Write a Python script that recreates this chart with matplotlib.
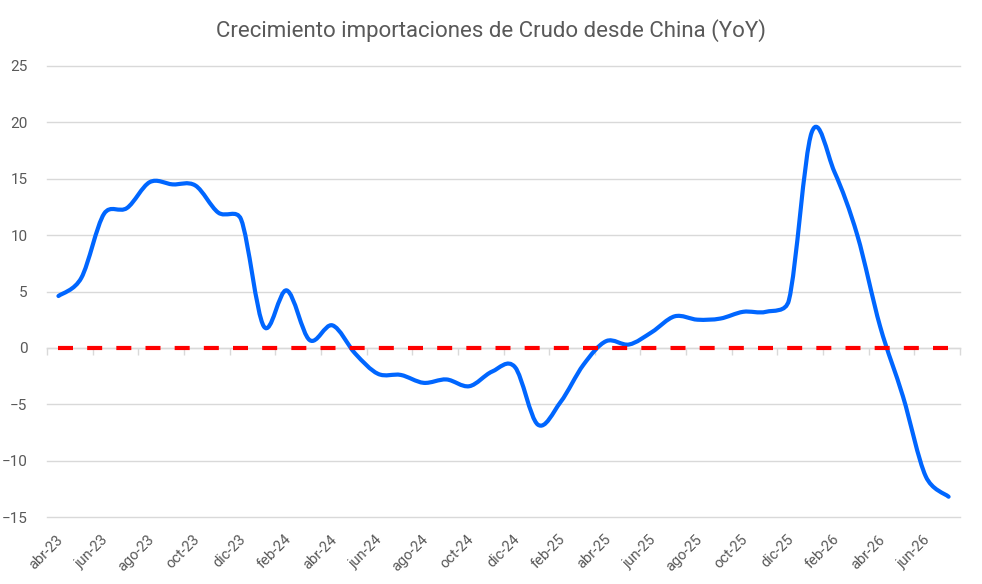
import matplotlib
matplotlib.use("Agg")
import matplotlib.pyplot as plt
from matplotlib.path import Path
from matplotlib.patches import PathPatch
import math

plt.rcParams['font.family'] = ['Roboto', 'DejaVu Sans']

meses = ["abr-23", "may-23", "jun-23", "jul-23", "ago-23", "sep-23", "oct-23", "nov-23",
         "dic-23", "ene-24", "feb-24", "mar-24", "abr-24", "may-24", "jun-24", "jul-24",
         "ago-24", "sep-24", "oct-24", "nov-24", "dic-24", "ene-25", "feb-25", "mar-25",
         "abr-25", "may-25", "jun-25", "jul-25", "ago-25", "sep-25", "oct-25", "nov-25",
         "dic-25", "ene-26", "feb-26", "mar-26", "abr-26", "may-26", "jun-26", "jul-26"]

crecimiento = [4.6, 6.2, 11.9, 12.4, 14.7, 14.5, 14.4, 12.0, 11.4, 1.9,
               5.1, 0.7, 2.0, -0.5, -2.3, -2.4, -3.1, -2.8, -3.4, -2.1,
               -1.7, -6.8, -4.8, -1.5, 0.6, 0.3, 1.4, 2.8, 2.5, 2.6,
               3.2, 3.2, 4.2, 19.1, 15.6, 10.0, 1.9, -4.3, -11.4, -13.2]

referencia = [0] * len(meses)

AZUL = "#0066FF"
ROJO = "#FF0000"
GRIS_TEXTO = "#595959"
GRIS_LINEA = "#D9D9D9"


def smooth_path(ys, sx, sy):
    # suavizado tipo Excel: bezier con brazos limitados (distancias en pixeles)
    n = len(ys)
    pts = [(float(i), float(y)) for i, y in enumerate(ys)]

    def dist(a, b):
        return math.hypot((a[0] - b[0]) * sx, (a[1] - b[1]) * sy)

    verts = [pts[0]]
    codes = [Path.MOVETO]
    for i in range(n - 1):
        p0 = pts[i - 1] if i > 0 else pts[i]
        p1 = pts[i]
        p2 = pts[i + 1]
        p3 = pts[i + 2] if i + 2 < n else pts[i + 1]
        d02, d12, d13 = dist(p0, p2), dist(p1, p2), dist(p1, p3)
        f1 = 1 / 6 if d02 / 6 < d12 / 2 else d12 / (2 * d02)
        f2 = 1 / 6 if d13 / 6 < d12 / 2 else d12 / (2 * d13)
        c1 = (p1[0] + (p2[0] - p0[0]) * f1, p1[1] + (p2[1] - p0[1]) * f1)
        c2 = (p2[0] - (p3[0] - p1[0]) * f2, p2[1] - (p3[1] - p1[1]) * f2)
        verts += [c1, c2, p2]
        codes += [Path.CURVE4] * 3
    return Path(verts, codes)


fig = plt.figure(figsize=(9.82, 5.84), dpi=100)
ax = fig.add_axes([0.0479, 0.1147, 0.9297, 0.7723])

x = list(range(len(meses)))
ax.set_xlim(-0.5, len(meses) - 0.5)
ax.set_ylim(-15, 25)

# escala en pixeles por unidad, para el suavizado
bbox = ax.get_window_extent()
sx = bbox.width / len(meses)
sy = bbox.height / 40.0

curva = PathPatch(smooth_path(crecimiento, sx, sy), fill=False, edgecolor=AZUL, lw=3.0,
                  capstyle='round', joinstyle='round', zorder=3)
ax.add_patch(curva)
ax.plot(x, referencia, color=ROJO, lw=3.0, linestyle=(0, (3.6, 3.4)), zorder=4)

ax.set_yticks(range(-15, 26, 5))
ax.yaxis.grid(True, color=GRIS_LINEA, lw=1.0)
for g in ax.get_ygridlines():
    g.set_clip_on(False)
ax.set_axisbelow(True)
ax.tick_params(axis='y', length=0, pad=14, labelsize=11, labelcolor=GRIS_TEXTO)

for s in ['left', 'right', 'top']:
    ax.spines[s].set_visible(False)
ax.spines['bottom'].set_position(('data', 0))
ax.spines['bottom'].set_color(GRIS_LINEA)
ax.spines['bottom'].set_linewidth(1.0)

ax.set_xticks([i - 0.5 for i in range(0, len(meses) + 1, 2)])
ax.set_xticklabels([])
ax.tick_params(axis='x', length=5, width=1.0, color=GRIS_LINEA, direction='out')

for i in range(0, len(meses), 2):
    ax.text(i + 0.1, -0.045, meses[i], transform=ax.get_xaxis_transform(),
            rotation=45, rotation_mode='anchor', ha='right', va='center',
            fontsize=10.5, color=GRIS_TEXTO)

fig.text(0.4995, 0.948, "Crecimiento importaciones de Crudo desde China (YoY)",
         ha='center', va='center', fontsize=16, color=GRIS_TEXTO)

fig.savefig("out.png", dpi=100)
